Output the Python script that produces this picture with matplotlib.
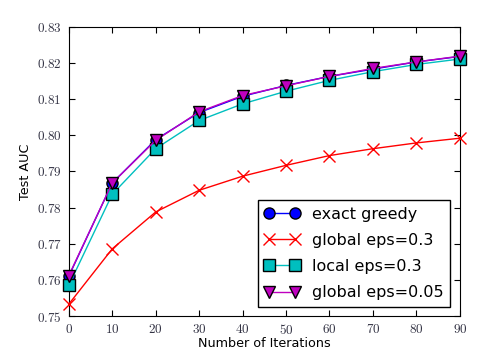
import matplotlib
matplotlib.use("Agg")
import matplotlib.pyplot as plt

plt.rcParams['mathtext.fontset'] = 'cm'

# 迭代次数与各方法的测试 AUC
iterations = [0, 10, 20, 30, 40, 50, 60, 70, 80, 90]
exact_greedy = [0.7610, 0.7868, 0.7988, 0.8063, 0.8108, 0.8138, 0.8163, 0.8183, 0.8203, 0.8218]
global_eps_03 = [0.7533, 0.7686, 0.7788, 0.7848, 0.7887, 0.7917, 0.7944, 0.7963, 0.7979, 0.7992]
local_eps_03 = [0.7585, 0.7837, 0.7963, 0.8041, 0.8087, 0.8122, 0.8152, 0.8176, 0.8196, 0.8211]
global_eps_005 = [0.7612, 0.7868, 0.7986, 0.8065, 0.8110, 0.8137, 0.8163, 0.8185, 0.8203, 0.8219]

x_ticks = [0, 10, 20, 30, 40, 50, 60, 70, 80, 90]
y_ticks = [0.75, 0.76, 0.77, 0.78, 0.79, 0.80, 0.81, 0.82, 0.83]

fig = plt.figure(figsize=(5.02, 3.58), dpi=100)
ax = fig.add_axes([0.137, 0.117, 0.779, 0.808])

ax.plot(iterations, exact_greedy, 'b-o', lw=1, ms=8, mec='k', clip_on=False, zorder=3, label='exact greedy')
ax.plot(iterations, global_eps_03, 'r-x', lw=1, ms=9, mew=1, clip_on=False, zorder=3, label='global eps=0.3')
ax.plot(iterations, local_eps_03, 'c-s', lw=1, ms=8, mec='k', clip_on=False, zorder=3, label='local eps=0.3')
ax.plot(iterations, global_eps_005, 'm-v', lw=1, ms=8, mec='k', clip_on=False, zorder=4, label='global eps=0.05')

ax.set_xlim(0, 90)
ax.set_ylim(0.75, 0.83)
ax.set_xticks(x_ticks)
ax.set_yticks(y_ticks)
ax.set_xticklabels(['$%d$' % t for t in x_ticks], fontsize=9.5, color='#333344')
ax.set_yticklabels(['$%.2f$' % t for t in y_ticks], fontsize=9.5, color='#333344')
ax.tick_params(direction='in', top=True, right=True, length=4, pad=5)

ax.set_xlabel('Number of Iterations', fontsize=9.2, labelpad=0)
ax.set_ylabel('Test AUC', fontsize=9.2, labelpad=3)

leg = ax.legend(loc='lower right', numpoints=2, fontsize=11.5, fancybox=False,
                edgecolor='k', framealpha=1, handlelength=2.2, borderpad=0.4,
                labelspacing=0.7, borderaxespad=0.6)
leg.get_frame().set_linewidth(1)

fig.savefig('out.png', dpi=100)
